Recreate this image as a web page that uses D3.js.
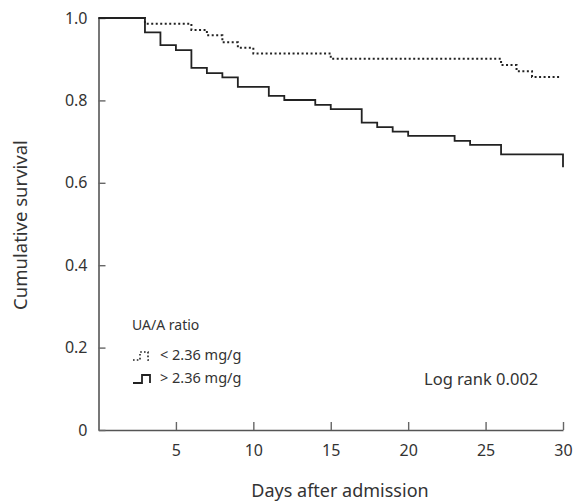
<!DOCTYPE html>
<html>
<head>
<meta charset="utf-8">
<script src="https://cdn.jsdelivr.net/npm/d3@7"></script>
<style>
  body { margin: 0; background: #fff; }
  text { font-family: "Noto Sans", "Open Sans", sans-serif; fill: #333; }
</style>
</head>
<body>
<div id="chart"></div>
<script>
// survival steps
var lowDays = [0, 3, 6, 7, 8, 9, 10, 15, 26, 27, 28, 29.8];
var lowSurv = [1.0, 0.986, 0.971, 0.958, 0.941, 0.928, 0.914, 0.901, 0.886, 0.871, 0.857, 0.857];

var highDays = [0, 3, 4, 5, 6, 7, 8, 9, 11, 12, 14, 15, 17, 18, 19, 20, 23, 24, 26, 30, 30];
var highSurv = [1.0, 0.965, 0.934, 0.922, 0.879, 0.866, 0.856, 0.833, 0.811, 0.801, 0.789, 0.779,
                0.746, 0.735, 0.724, 0.714, 0.702, 0.692, 0.669, 0.669, 0.638];

var xTicks = [5, 10, 15, 20, 25, 30];
var yTicks = [0, 0.2, 0.4, 0.6, 0.8, 1.0];

var legendTitle = "UA/A ratio";
var legendLabels = ["< 2.36 mg/g", "> 2.36 mg/g"];
var noteText = "Log rank 0.002";

var margin = { top: 18, right: 14, bottom: 72, left: 98.5 };
var height = 502 - margin.top - margin.bottom;

var svg = d3.select("#chart").append("svg")
    .attr("width", 577)
    .attr("height", 502);

var g = svg.append("g")
    .attr("transform", "translate(" + margin.left + "," + margin.top + ")");

var x = d3.scaleLinear().domain([0, 30]).range([0, 464.5]);
var y = d3.scaleLinear().domain([0, 1]).range([height, 0]);

// axes
var xAxis = g.append("g")
    .attr("transform", "translate(0," + height + ")")
    .call(d3.axisBottom(x).tickValues(xTicks).tickSizeInner(-8).tickSizeOuter(0).tickPadding(15));

var yAxis = g.append("g")
    .call(d3.axisLeft(y).tickValues(yTicks).tickSizeInner(-7).tickSizeOuter(0).tickPadding(11)
        .tickFormat(function (d) { return d === 0 ? "0" : d3.format(".1f")(d); }));

[xAxis, yAxis].forEach(function (a) {
    a.select(".domain").attr("stroke", "#555").attr("stroke-width", 1.6);
    a.selectAll(".tick line").attr("stroke", "#666").attr("stroke-width", 1.4);
    a.selectAll(".tick text").style("font-size", "16px").attr("fill", "#333");
});

g.append("text")
    .attr("x", 340 - margin.left)
    .attr("y", height + 67)
    .attr("text-anchor", "middle")
    .style("font-size", "18px")
    .text("Days after admission");

g.append("text")
    .attr("transform", "translate(" + (-72) + "," + (225 - margin.top) + ") rotate(-90)")
    .attr("text-anchor", "middle")
    .style("font-size", "18.5px")
    .text("Cumulative survival");

// curves
var line = d3.line()
    .x(function (d) { return x(d[0]); })
    .y(function (d) { return y(d[1]); })
    .curve(d3.curveStepAfter);

g.append("path")
    .datum(d3.zip(highDays, highSurv))
    .attr("fill", "none")
    .attr("stroke", "#222")
    .attr("stroke-width", 1.8)
    .attr("d", line);

g.append("path")
    .datum(d3.zip(lowDays, lowSurv))
    .attr("fill", "none")
    .attr("stroke", "#222")
    .attr("stroke-width", 2)
    .attr("stroke-dasharray", "2,2.5")
    .attr("d", line);

// legend
var leg = svg.append("g").attr("transform", "translate(132,325)");
leg.append("text").attr("x", 0).attr("y", 5).style("font-size", "14px").text(legendTitle);

leg.append("path")
    .attr("d", "M1,35 h7 v-8 h8 v8 h2")
    .attr("fill", "none").attr("stroke", "#222").attr("stroke-width", 1.6)
    .attr("stroke-dasharray", "1.6,2.2");
leg.append("path")
    .attr("d", "M1,58 h9 v-8 h8 v8")
    .attr("fill", "none").attr("stroke", "#222").attr("stroke-width", 1.8);

leg.selectAll("text.lab")
    .data(legendLabels)
    .enter().append("text")
    .attr("class", "lab")
    .attr("x", 28)
    .attr("y", function (d, i) { return 35 + i * 23; })
    .style("font-size", "14.5px")
    .text(function (d) { return d; });

svg.append("text")
    .attr("x", 424)
    .attr("y", 385)
    .style("font-size", "16.5px")
    .text(noteText);
</script>
</body>
</html>
